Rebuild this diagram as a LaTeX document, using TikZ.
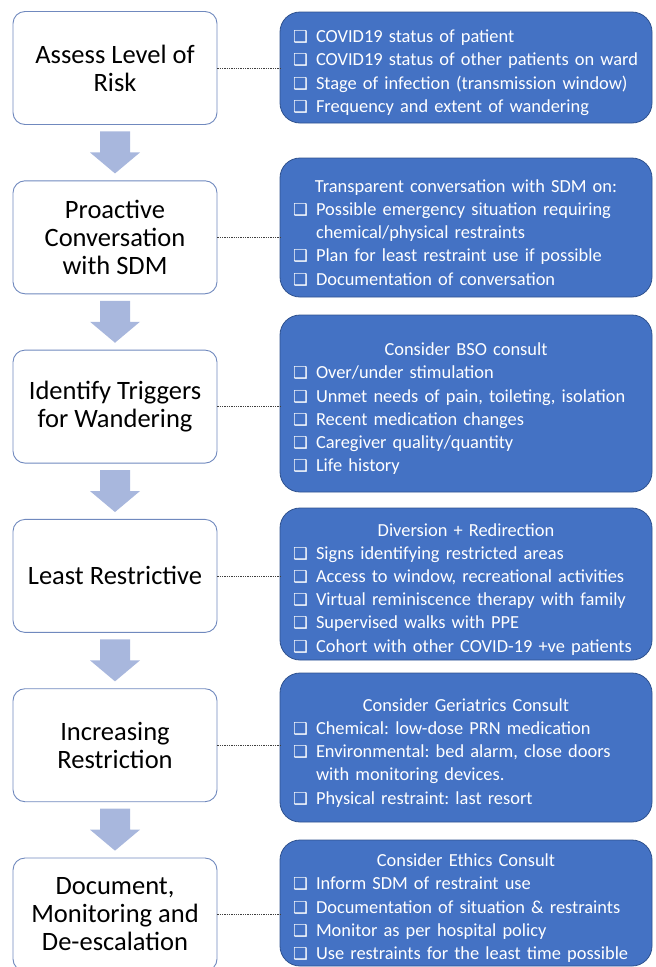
\documentclass[tikz,border=0pt]{standalone}
\usepackage{fontspec}
\setmainfont{Carlito}
\newfontfamily\dvfont{DejaVu Sans}
\usetikzlibrary{calc}
\definecolor{boxblue}{HTML}{4472C4}
\definecolor{boxedge}{HTML}{2F528F}
\definecolor{leftedge}{HTML}{7089BE}
\definecolor{arrowfill}{HTML}{A8B7DD}
\frenchspacing
\newcommand\chk{{\dvfont\fontsize{16.5}{16.5}\selectfont ❑}}
\newcommand\itm[1]{\par\noindent\makebox[23pt][l]{\chk}\mbox{#1}}
\newcommand\itmc[1]{\par\noindent\hspace*{23pt}\mbox{#1}}
\newcommand\hdr[1]{\par{\centering #1\par}}
\tikzset{
  lbox/.style={draw=leftedge, line width=0.9pt, fill=white, rounded corners=12pt,
    minimum width=204pt, minimum height=113pt, inner sep=0pt, align=center,
    font=\fontsize{26.5}{28}\selectfont},
  rbox/.style={draw=boxedge, line width=0.8pt, fill=boxblue, rounded corners=20pt,
    text width=346pt, inner xsep=13pt, inner ysep=0pt, align=left, text=white,
    font=\fontsize{18.4}{23.2}\selectfont},
  link/.style={draw=black!75, line width=0.6pt, dash pattern=on 1.3pt off 1pt},
  downarrow/.style={fill=arrowfill, draw=none}
}
\begin{document}
\begin{tikzpicture}[x=1pt,y=-1pt]
\useasboundingbox (0,0) rectangle (656,967);
% left step boxes
\node[lbox] (L1) at (115,68) {Assess Level of\\Risk};
\node[lbox] (L2) at (115,237.3) {Proactive\\Conversation\\with SDM};
\node[lbox] (L3) at (115,406.6) {Identify Triggers\\for Wandering};
\node[lbox] (L4) at (115,575.9) {Least Restrictive};
\node[lbox] (L5) at (115,745.2) {Increasing\\Restriction};
\node[lbox] (L6) at (115,914.5) {Document,\\Monitoring and\\De-escalation};
% right detail boxes
\node[rbox, minimum height=111pt] (R1) at (466,67.5) {%
\itm{COVID19 status of patient}
\itm{COVID19 status of other patients on ward}
\itm{Stage of infection (transmission window)}
\itm{Frequency and extent of wandering}};
\node[rbox, minimum height=139pt] (R2) at (466,227.5) {%
\hdr{Transparent conversation with SDM on:}
\itm{Possible emergency situation requiring}
\itmc{chemical/physical restraints}
\itm{Plan for least restraint use if possible}
\itm{Documentation of conversation}};
\node[rbox, minimum height=177pt] (R3) at (466,403.5) {%
\hdr{Consider BSO consult}
\itm{Over/under stimulation}
\itm{Unmet needs of pain, toileting, isolation}
\itm{Recent medication changes}
\itm{Caregiver quality/quantity}
\itm{Life history}};
\node[rbox, minimum height=152pt] (R4) at (466,584) {%
\hdr{Diversion + Redirection}
\itm{Signs identifying restricted areas}
\itm{Access to window, recreational activities}
\itm{Virtual reminiscence therapy with family}
\itm{Supervised walks with PPE}
\itm{Cohort with other COVID-19 +ve patients}};
\node[rbox, minimum height=149pt] (R5) at (466,747.5) {%
\hdr{Consider Geriatrics Consult}
\itm{Chemical: low-dose PRN medication}
\itm{Environmental: bed alarm, close doors}
\itmc{with monitoring devices.}
\itm{Physical restraint: last resort}};
\node[rbox, minimum height=126pt] (R6) at (466,903) {%
\hdr{Consider Ethics Consult}
\itm{Inform SDM of restraint use}
\itm{Documentation of situation \& restraints}
\itm{Monitor as per hospital policy}
\itm{Use restraints for the least time possible}};
% dotted links
\foreach \i in {1,...,6}{
  \draw[link] (L\i.east) -- (L\i.east -| R\i.west);
}
% block arrows
\foreach \i in {1,...,5}{
  \path[downarrow] ($(L\i.south)+(-15,6.5)$) -- ++(30,0) -- ++(0,21) -- ++(10,0)
    -- ++(-25,21) -- ++(-25,-21) -- ++(10,0) -- cycle;
}
\end{tikzpicture}
\end{document}
